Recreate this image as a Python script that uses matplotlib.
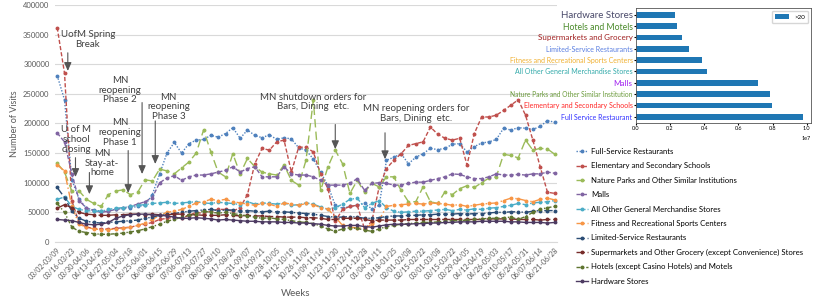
import numpy as np
import matplotlib
matplotlib.use("Agg")
import matplotlib.pyplot as plt

plt.rcParams['font.family'] = ['Lato', 'DejaVu Sans']

week_labels = ['03/02-03/09', '03/16-03/23', '03/30-04/06', '04/13-04/20', '04/27-05/04',
               '05/11-05/18', '05/25-06/01', '06/08-06/15', '06/22-06/29', '07/06-07/13',
               '07/20-07/27', '08/03-08/10', '08/17-08/24', '08/31-09/07', '09/14-09/21',
               '09/28-10/05', '10/12-10/19', '10/26-11/02', '11/09-11/16', '11/23-11/30',
               '12/07-12/14', '12/21-12/28', '01/04-01/11', '01/18-01/25', '02/01-02/08',
               '02/15-02/22', '03/01-03/08', '03/15-03/22', '03/29-04/05', '04/12-04/19',
               '04/26-05/03', '05/10-05/17', '05/24-05/31', '06/07-06/14', '06/21-06/28']

# weekly visits, thousands
full_service = [281, 240, 105, 72, 57, 54, 52, 53, 55, 57, 58, 60, 62, 80, 115, 150, 168, 150, 166, 172,
                173, 180, 177, 183, 193, 175, 189, 180, 176, 181, 173, 176, 174, 159, 155, 140, 118, 95, 62, 57,
                60, 62, 65, 56, 62, 138, 143, 149, 132, 143, 149, 158, 156, 158, 165, 166, 152, 161, 167, 169,
                173, 192, 189, 193, 192, 190, 195, 205, 202]
schools = [362, 285, 70, 32, 25, 23, 22, 22, 23, 24, 25, 28, 30, 33, 38, 40, 42, 40, 45, 50,
           48, 52, 55, 55, 52, 58, 80, 132, 158, 155, 169, 172, 118, 160, 160, 152, 115, 90, 35, 55,
           60, 62, 22, 35, 93, 124, 138, 149, 163, 166, 169, 194, 182, 175, 172, 175, 130, 183, 211, 211,
           214, 222, 231, 240, 214, 172, 127, 84, 82]
nature = [133, 118, 86, 86, 72, 65, 60, 80, 86, 88, 80, 84, 105, 103, 123, 120, 115, 125, 135, 150,
          189, 152, 118, 110, 149, 115, 141, 127, 118, 115, 113, 130, 104, 96, 138, 239, 87, 127, 155, 132,
          82, 104, 84, 99, 93, 110, 110, 87, 68, 68, 93, 68, 65, 85, 80, 90, 95, 92, 100, 108,
          110, 148, 146, 142, 172, 155, 158, 157, 148]
malls = [184, 169, 115, 70, 57, 53, 50, 52, 55, 57, 60, 64, 68, 75, 100, 108, 112, 104, 110, 113,
         113, 115, 118, 121, 127, 118, 124, 127, 110, 110, 110, 127, 115, 113, 113, 110, 104, 96, 96, 96,
         99, 107, 87, 99, 100, 99, 96, 96, 99, 101, 101, 104, 107, 110, 115, 114, 110, 107, 107, 110,
         115, 113, 113, 114, 113, 115, 115, 118, 116]
general_merch = [72, 76, 60, 55, 53, 52, 52, 55, 57, 58, 60, 62, 63, 65, 66, 67, 65, 66, 67, 68,
                 66, 65, 67, 66, 65, 63, 68, 64, 66, 65, 64, 66, 62, 63, 66, 64, 59, 55, 58, 64,
                 72, 74, 58, 65, 70, 58, 52, 50, 51, 52, 52, 53, 54, 55, 53, 55, 54, 56, 55, 57,
                 58, 60, 62, 65, 63, 66, 67, 68, 70]
fitness = [130, 120, 60, 30, 25, 22, 21, 21, 22, 23, 25, 28, 32, 38, 45, 50, 52, 55, 60, 66,
           68, 72, 70, 72, 68, 66, 64, 62, 65, 64, 60, 66, 64, 62, 65, 63, 58, 56, 42, 28,
           25, 24, 23, 30, 37, 60, 62, 63, 64, 65, 64, 66, 65, 64, 62, 63, 60, 62, 64, 65,
           66, 70, 74, 73, 70, 68, 72, 74, 71]
limited = [92, 75, 52, 40, 35, 33, 32, 33, 34, 35, 36, 37, 40, 42, 45, 47, 48, 50, 52, 53,
           54, 55, 53, 54, 54, 52, 53, 52, 51, 52, 51, 51, 50, 49, 48, 47, 45, 43, 42, 42,
           43, 42, 40, 40, 41, 43, 44, 44, 45, 45, 46, 46, 47, 47, 47, 48, 47, 48, 48, 49,
           50, 50, 51, 51, 50, 52, 53, 53, 53]
grocery = [57, 63, 58, 50, 47, 46, 45, 45, 46, 46, 47, 47, 46, 47, 46, 46, 47, 47, 46, 46,
           45, 45, 45, 46, 45, 44, 45, 44, 44, 43, 43, 42, 42, 42, 41, 41, 40, 38, 38, 40,
           40, 40, 38, 36, 37, 37, 37, 37, 38, 38, 38, 38, 38, 38, 38, 38, 38, 38, 38, 39,
           39, 39, 39, 38, 38, 38, 37, 38, 38]
hotels = [65, 50, 25, 18, 16, 14, 13, 13, 14, 15, 17, 19, 22, 26, 30, 35, 38, 42, 45, 48,
          52, 50, 49, 50, 48, 46, 44, 42, 40, 41, 39, 38, 36, 34, 33, 31, 27, 22, 18, 22,
          24, 23, 20, 18, 22, 26, 28, 30, 31, 32, 33, 33, 34, 35, 36, 36, 37, 38, 39, 40,
          40, 41, 42, 38, 43, 50, 55, 58, 60]
hardware = [38, 37, 36, 33, 30, 29, 30, 33, 40, 44, 46, 47, 47, 46, 45, 44, 42, 40, 40, 41,
            40, 39, 37, 38, 37, 36, 35, 35, 34, 34, 34, 33, 33, 32, 32, 31, 30, 28, 27, 27,
            28, 28, 26, 25, 27, 29, 30, 30, 30, 31, 31, 32, 32, 33, 33, 34, 34, 34, 35, 35,
            35, 35, 34, 34, 33, 33, 33, 32, 33]

series_names = ['Full-Service Restaurants', 'Elementary and Secondary Schools',
                'Nature Parks and Other Similar Institutions', 'Malls',
                'All Other General Merchandise Stores', 'Fitness and Recreational Sports Centers',
                'Limited-Service Restaurants',
                'Supermarkets and Other Grocery (except Convenience) Stores',
                'Hotels (except Casino Hotels) and Motels', 'Hardware Stores']
series_values = [full_service, schools, nature, malls, general_merch, fitness, limited,
                 grocery, hotels, hardware]
colors = ['#4F81BD', '#C0504D', '#9BBB59', '#8064A2', '#4BACC6', '#F79646',
          '#2C4D75', '#772C2A', '#5F7530', '#4D3B62']
dashes = [(1, 1.2), (3, 1.5), (6, 3), (3, 1.5), (4, 1.5, 1, 1.5), (6, 2, 1, 2),
          (6, 2, 1, 1.5, 1, 2), (6, 2), (3, 1.5, 1, 1.5), ()]

# event annotations: label, text week, text top value, arrow week, arrow start, arrow tip
events = [('UofM Spring\nBreak', 4.2, 357000, 1.45, 324000, 284000),
          ('U of M\nschool\nclosing', 2.6, 197000, 2.5, 147000, 105000),
          ('MN\nStay-at-\nhome', 6.1, 157000, 4.4, 122000, 76000),
          ('MN\nreopening\nPhase 1', 8.6, 209000, 9.7, 159000, 78000),
          ('MN\nreopening\nPhase 2', 8.6, 280000, 11.6, 240000, 110000),
          ('MN\nreopening\nPhase 3', 15.2, 252000, 13.4, 209000, 127000),
          ('MN shutdown orders for\nBars, Dining  etc.', 35.0, 252000, 38.0, 203000, 152000),
          ('MN reopening orders for\nBars, Dining  etc.', 49.0, 233000, 44.8, 189000, 135000)]

# inset: total visits by category
bar_labels = ['Full Service Restaurant', 'Elementary and Secondary Schools',
              'Nature Parks and Other Similar Institution', 'Malls',
              'All Other General Merchandise Stores', 'Fitness and Recreational Sports Centers',
              'Limited-Service Restaurants', 'Supermarkets and Grocery', 'Hotels and Motels',
              'Hardware Stores']
bar_values = [9.76e6, 7.97e6, 7.83e6, 7.13e6, 4.13e6, 3.86e6, 3.11e6, 2.72e6, 2.40e6, 2.30e6]
bar_label_colors = ['#3333ff', '#ff2a2a', '#6a9a3a', '#a020f0', '#33aaaa', '#f0b030',
                    '#5a7fe0', '#a02020', '#4a8a2a', '#4a4a6a']
bar_label_sizes = [5.0, 5.1, 4.8, 5.8, 5.0, 5.0, 5.0, 5.8, 6.2, 7.0]

W, H = 830, 297
fig = plt.figure(figsize=(W / 100, H / 100), dpi=100)
ax = fig.add_axes([55 / W, 55 / H, 502 / W, 237 / H])

weeks = np.arange(len(full_service))
for name, vals, c, d in zip(series_names, series_values, colors, dashes):
    ln, = ax.plot(weeks, np.array(vals) * 1000, color=c, lw=1.0, marker='o', ms=1.8,
                  label=name)
    if d:
        ln.set_dashes(d)

ax.set_xlim(-0.3, 68.3)
ax.set_ylim(0, 400000)
ax.set_yticks(np.arange(0, 400001, 50000))
ax.set_xticks(weeks[::2])
ax.set_xticklabels(week_labels, rotation=45, ha='right', rotation_mode='anchor',
                   fontsize=5, color='#595959')
ax.tick_params(axis='y', length=0, labelsize=5.5, labelcolor='#595959', pad=4)
ax.tick_params(axis='x', length=0, pad=3)
ax.grid(axis='y', color='#D9D9D9', lw=0.8)
ax.set_axisbelow(True)
for s in ['top', 'right', 'left']:
    ax.spines[s].set_visible(False)
ax.spines['bottom'].set_color('#D9D9D9')
ax.set_ylabel('Number of Visits', fontsize=6.5, color='#595959', labelpad=3)
ax.set_xlabel('Weeks', fontsize=7, color='#595959', labelpad=4)
ax.xaxis.set_label_coords(0.48, -0.2)

for txt, tx, ty, axw, a0, a1 in events:
    ax.text(tx, ty, txt, ha='center', va='top', fontsize=7, color='#404040', linespacing=1.1)
    ax.annotate('', xy=(axw, a1), xytext=(axw, a0),
                arrowprops=dict(arrowstyle='-|>,head_length=0.5,head_width=0.22',
                                color='#555555', lw=0.8))

ax.legend(loc='upper left', bbox_to_anchor=(569 / W, 1 - 141 / H),
          bbox_transform=fig.transFigure, frameon=False, fontsize=5.6,
          handlelength=1.6, handletextpad=0.3, labelspacing=0.95)

# inset bar chart
ax2 = fig.add_axes([636 / W, 1 - 123 / H, 175 / W, 115 / H])
ax2.barh(np.arange(len(bar_values)), bar_values, height=0.5, color='#1f77b4', label='>20')
ax2.set_xlim(0, max(bar_values) * 1.05)
ax2.set_ylim(-0.55, 9.6)
ax2.set_yticks(np.arange(len(bar_values)))
ax2.set_yticklabels(bar_labels)
for t, c, s in zip(ax2.get_yticklabels(), bar_label_colors, bar_label_sizes):
    t.set_color(c)
    t.set_fontsize(s)
ax2.tick_params(axis='x', labelsize=4, length=1.5, pad=1)
ax2.tick_params(axis='y', length=1.5, pad=1)
ax2.xaxis.get_offset_text().set_fontsize(4)
for s in ax2.spines.values():
    s.set_color('#555555')
    s.set_linewidth(0.6)
ax2.legend(loc='upper right', fontsize=4.5, handlelength=2.2, borderpad=0.5)

fig.savefig('out.png', dpi=100)
